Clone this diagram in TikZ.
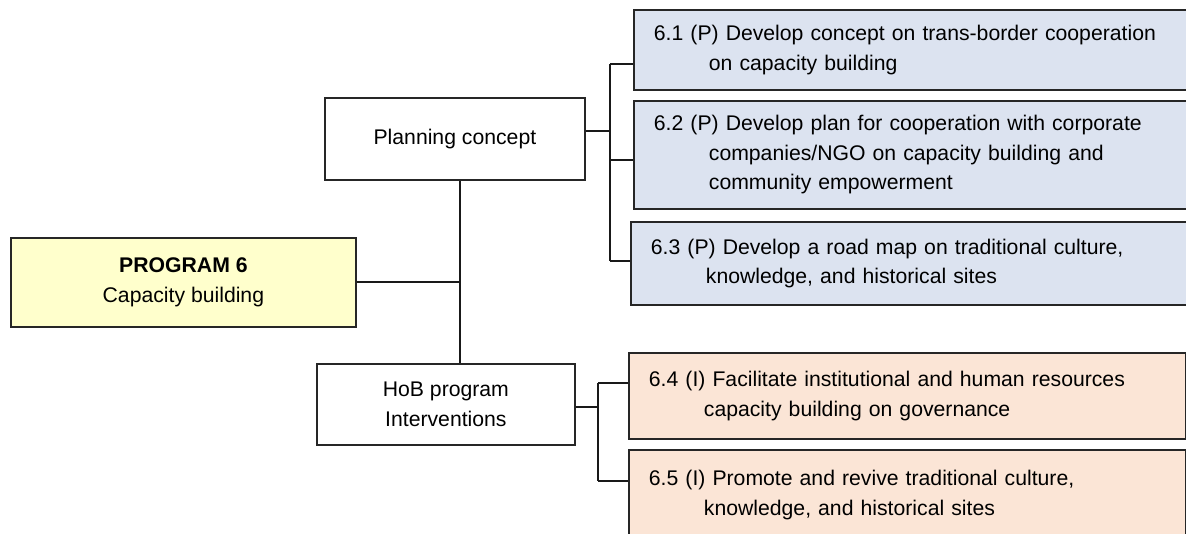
\documentclass[tikz,border=0pt]{standalone}
\usepackage{fontspec}
\setmainfont{Liberation Sans}
\definecolor{progfill}{HTML}{FFFFCC}
\definecolor{planfill}{HTML}{DCE3F0}
\definecolor{hobfill}{HTML}{FBE5D6}
\newcommand{\ind}{\hspace*{27.5pt}}

\begin{document}
\begin{tikzpicture}[x=0.5pt,y=-0.5pt,
    box/.style={draw=black!85,line width=0.9pt,inner sep=0pt,anchor=north west,
                align=center,font=\fontsize{10.6}{14.8}\selectfont},
    act/.style={box,align=left,inner xsep=10pt,text width=258.5pt,minimum width=278.5pt},
    link/.style={draw=black!90,line width=1pt}]
\useasboundingbox (0,0) rectangle (1186,534);
\node [box,fill=progfill,minimum width=172.5pt,minimum height=44.5pt] (prog) at (10,237)
    {\textbf{PROGRAM 6}\\ Capacity building};
\node [box,minimum width=130pt,minimum height=41pt] (plan) at (324,97) {Planning concept};
\node [box,minimum width=129pt,minimum height=40.5pt] (hob) at (316,363) {HoB program\\ Interventions};
\node [act,fill=planfill,minimum height=40pt] (act61) at (633,9)
    {6.1 (P) Develop concept on trans-border cooperation\\ \ind on capacity building};
\node [act,fill=planfill,minimum height=54pt] (act62) at (633,100)
    {6.2 (P) Develop plan for cooperation with corporate\\ \ind companies/NGO on capacity building and\\ \ind community empowerment};
\node [act,fill=planfill,minimum height=41.5pt] (act63) at (630,221)
    {6.3 (P) Develop a road map on traditional culture,\\ \ind knowledge, and historical sites};
\node [act,fill=hobfill,minimum width=278.5pt,minimum height=43pt] (act64) at (628,352)
    {6.4 (I) Facilitate institutional and human resources\\ \ind capacity building on governance};
\node [act,fill=hobfill,minimum width=278.5pt,minimum height=45pt] (act65) at (628,449)
    {6.5 (I) Promote and revive traditional culture,\\ \ind knowledge, and historical sites};
% forks
\coordinate (trunk) at (460,282);
\coordinate (planfork) at (610,131);
\coordinate (hobfork) at (598,407);
\coordinate (b61) at (610,64);
\coordinate (b62) at (610,160);
\coordinate (b63) at (610,261);
\coordinate (b64) at (598,383);
\coordinate (b65) at (598,481);
\draw [link] (prog.east |- trunk) -- (trunk);
\draw [link] (trunk |- plan.south) -- (trunk |- hob.north);
\draw [link] (plan.east |- planfork) -- (planfork);
\draw [link] (hob.east |- hobfork) -- (hobfork);
\draw [link] (b61) -- (b63);
\draw [link] (b64) -- (b65);
\foreach \n in {61,62,63,64,65}
    \draw [link] (b\n) -- (b\n -| act\n.west);
\end{tikzpicture}
\end{document}
